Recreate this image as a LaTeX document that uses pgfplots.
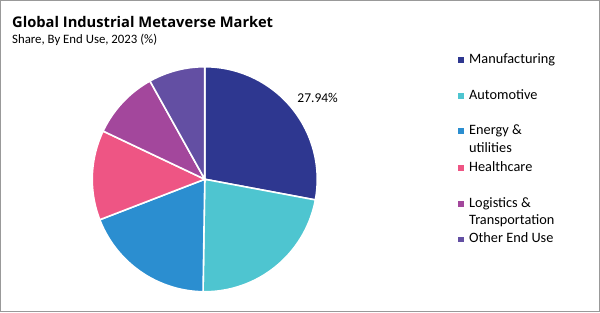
\documentclass[border=0pt]{standalone}
\usepackage{pgfplots}
\pgfplotsset{compat=1.18}
\usepackage{fontspec}
\setmainfont{Carlito}
\newfontfamily\titlefont{Open Sans}
\definecolor{cManu}{HTML}{2E3790}
\definecolor{cAuto}{HTML}{4EC5D0}
\definecolor{cEner}{HTML}{2B8ED0}
\definecolor{cHeal}{HTML}{EE5584}
\definecolor{cLogi}{HTML}{A3479C}
\definecolor{cOthe}{HTML}{634FA3}
\begin{document}
\begin{tikzpicture}[x=1bp,y=1bp]
\useasboundingbox (0,0) rectangle (600,312);
\fill[white] (0,0) rectangle (600,312);
\draw[black!40, line width=1bp] (0.5,0.5) rectangle (599.5,311.5);
% shares (%)
\def\vA{27.94}\def\vB{22.30}\def\vC{18.90}\def\vD{12.90}\def\vE{9.86}\def\vF{8.10}
\pgfmathsetmacro\aA{90}
\pgfmathsetmacro\aB{\aA-3.6*\vA}
\pgfmathsetmacro\aC{\aB-3.6*\vB}
\pgfmathsetmacro\aD{\aC-3.6*\vC}
\pgfmathsetmacro\aE{\aD-3.6*\vD}
\pgfmathsetmacro\aF{\aE-3.6*\vE}
\pgfmathsetmacro\aG{\aF-3.6*\vF}
\begin{axis}[at={(82,18)}, anchor=south west, scale only axis,
  width=225bp, height=225bp, xmin=-1, xmax=1, ymin=-1, ymax=1,
  hide axis, clip=false]
\addplot[fill=cManu, draw=white, line width=1.6pt, domain=\aB:\aA, samples=80, variable=\t] ({cos(\t)},{sin(\t)}) -- (axis cs:0,0) -- cycle;
\addplot[fill=cAuto, draw=white, line width=1.6pt, domain=\aC:\aB, samples=80, variable=\t] ({cos(\t)},{sin(\t)}) -- (axis cs:0,0) -- cycle;
\addplot[fill=cEner, draw=white, line width=1.6pt, domain=\aD:\aC, samples=80, variable=\t] ({cos(\t)},{sin(\t)}) -- (axis cs:0,0) -- cycle;
\addplot[fill=cHeal, draw=white, line width=1.6pt, domain=\aE:\aD, samples=80, variable=\t] ({cos(\t)},{sin(\t)}) -- (axis cs:0,0) -- cycle;
\addplot[fill=cLogi, draw=white, line width=1.6pt, domain=\aF:\aE, samples=80, variable=\t] ({cos(\t)},{sin(\t)}) -- (axis cs:0,0) -- cycle;
\addplot[fill=cOthe, draw=white, line width=1.6pt, domain=\aG:\aF, samples=80, variable=\t] ({cos(\t)},{sin(\t)}) -- (axis cs:0,0) -- cycle;
\node[anchor=west, inner sep=0pt, font=\fontsize{13.5bp}{15bp}\selectfont] at (axis cs:0.822,0.72) {27.94\%};
\end{axis}
% title
\node[anchor=base west, inner sep=0pt, font=\titlefont\bfseries\fontsize{14.7bp}{17bp}\selectfont] at (12,285) {Global Industrial Metaverse Market};
\node[anchor=base west, inner sep=0pt, font=\fontsize{12.8bp}{14bp}\selectfont] at (12,269) {Share, By End Use, 2023 (\%)};
% legend
\begin{scope}[every node/.style={anchor=base west, inner sep=0pt, font=\fontsize{14.3bp}{16bp}\selectfont}]
\fill[cManu] (458,312-62.8) rectangle +(5.5,5.5); \node at (469,312-63.3) {Manufacturing};
\fill[cAuto] (458,312-98.8) rectangle +(5.5,5.5); \node at (469,312-99.3) {Automotive};
\fill[cEner] (458,312-133.8) rectangle +(5.5,5.5); \node at (469,312-134.3) {Energy \&};
\node at (469,312-152) {utilities};
\fill[cHeal] (458,312-170.5) rectangle +(5.5,5.5); \node at (469,312-171) {Healthcare};
\fill[cLogi] (458,312-206.8) rectangle +(5.5,5.5); \node at (469,312-207.3) {Logistics \&};
\node at (469,312-224.3) {Transportation};
\fill[cOthe] (458,312-242.2) rectangle +(5.5,5.5); \node at (469,312-242.7) {Other End Use};
\end{scope}
\end{tikzpicture}
\end{document}
